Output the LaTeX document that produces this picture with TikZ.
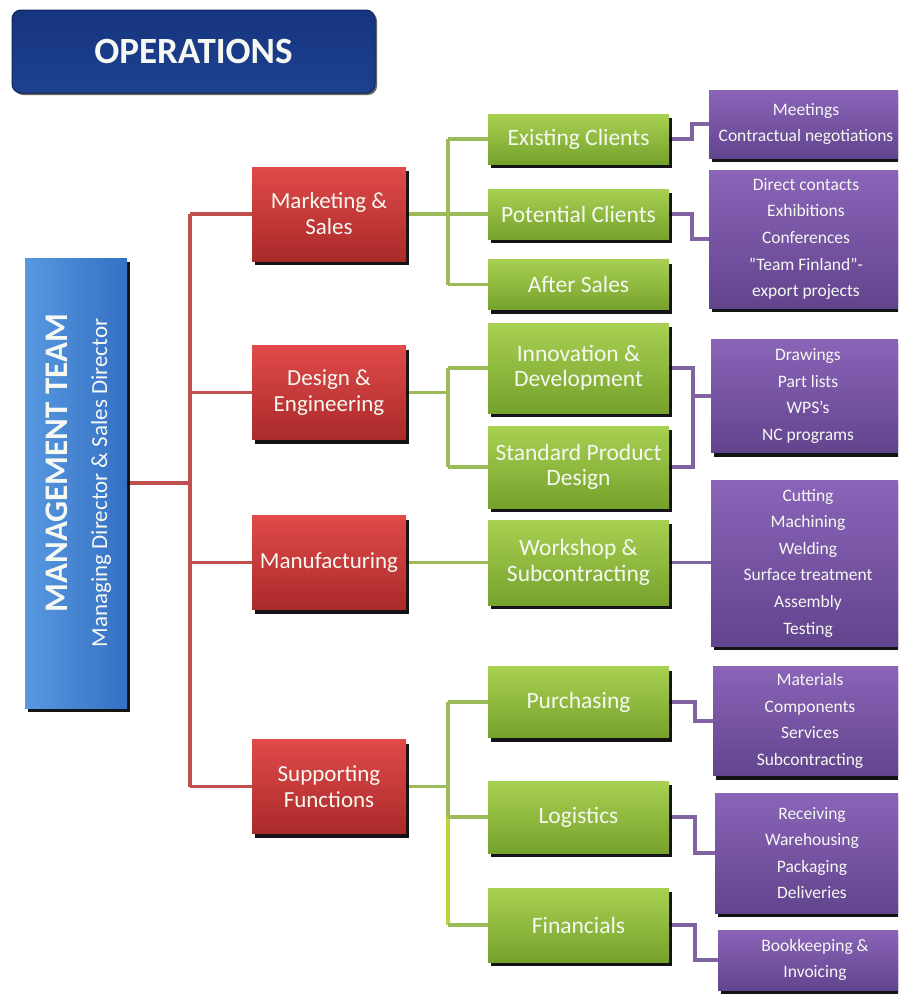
\documentclass[tikz,border=0pt]{standalone}
\usepackage{fontspec}
\setmainfont{Carlito}
\usetikzlibrary{shadows}
\pgfdeclarelayer{paper}
\pgfdeclarelayer{wires}
\pgfsetlayers{paper,wires,main}

\definecolor{redwire}{RGB}{192,80,77}
\definecolor{greenwire}{RGB}{155,187,89}
\definecolor{yellowwire}{RGB}{190,208,60}
\definecolor{purplewire}{RGB}{128,100,162}
\definecolor{redtop}{RGB}{224,74,74}
\definecolor{redbot}{RGB}{170,42,42}
\definecolor{greentop}{RGB}{168,208,82}
\definecolor{greenbot}{RGB}{118,162,44}
\definecolor{purpletop}{RGB}{138,100,184}
\definecolor{purplebot}{RGB}{98,68,142}
\definecolor{navytop}{RGB}{22,52,128}
\definecolor{navybot}{RGB}{30,66,142}
\definecolor{bluel}{RGB}{88,152,224}
\definecolor{bluer}{RGB}{52,112,196}
\definecolor{lighttext}{RGB}{246,248,242}

\tikzset{
  box/.style={rectangle, inner sep=2pt, align=center, text=lighttext,
    drop shadow={shadow xshift=3pt, shadow yshift=-4pt, fill=black, opacity=0.92}},
  redbox/.style={box, top color=redtop, bottom color=redbot,
    minimum width=154pt, minimum height=94pt, font=\fontsize{23}{26}\selectfont},
  greenbox/.style={box, top color=greentop, bottom color=greenbot,
    minimum width=181pt, font=\fontsize{23.5}{25.5}\selectfont},
  purplebox/.style={box, top color=purpletop, bottom color=purplebot,
    minimum width=194pt, font=\fontsize{17.5}{26.6}\selectfont},
  redline/.style={draw=redwire, line width=3.5pt},
  greenline/.style={draw=greenwire, line width=3.5pt},
  purpleline/.style={draw=purplewire, line width=3.5pt},
}

\begin{document}
\begin{tikzpicture}[x=1pt, y=-1pt]
\useasboundingbox (0,0) rectangle (898,994);
\begin{pgfonlayer}{paper}
  \fill[white] (0,0) rectangle (898,994);
\end{pgfonlayer}
\clip (0,0) rectangle (898,994);

% title banner
\node[rectangle, rounded corners=9pt, top color=navytop, bottom color=navybot,
  draw=navytop!70!black, line width=1pt, minimum width=363pt, minimum height=83pt,
  drop shadow={shadow xshift=2pt, shadow yshift=-2pt, fill=black, opacity=0.6},
  text=lighttext, font=\bfseries\fontsize{37}{40}\selectfont]
  (ops) at (193.5,51.5) {OPERATIONS};

% management column
\node[rectangle, left color=bluel, right color=bluer, minimum width=102pt, minimum height=450pt,
  drop shadow={shadow xshift=3pt, shadow yshift=-4pt, fill=black, opacity=0.92}]
  (mgmt) at (76,483) {};
\node[rotate=90, anchor=base, text=lighttext, inner sep=0pt,
  font=\bfseries\fontsize{33}{36}\selectfont] (mgtitle) at (67,463) {MANAGEMENT TEAM};
\node[rotate=90, anchor=base, text=lighttext, inner sep=0pt,
  font=\fontsize{23}{27}\selectfont] (mgsub) at (107,483) {Managing Director \& Sales Director};

% departments
\node[redbox] (ms) at (329,214) {Marketing \&\\Sales};
\node[redbox] (de) at (329,392.5) {Design \&\\Engineering};
\node[redbox] (mf) at (329,562.5) {Manufacturing};
\node[redbox] (sf) at (329,786.5) {Supporting\\Functions};

% functions
\node[greenbox, minimum height=50pt] (ec) at (578.5,139) {Existing Clients};
\node[greenbox, minimum height=50pt] (pc) at (578.5,214) {Potential Clients};
\node[greenbox, minimum height=50pt] (as) at (578.5,284.5) {After Sales};
\node[greenbox, minimum height=90pt] (id) at (578.5,368) {Innovation \&\\Development};
\node[greenbox, minimum height=82pt] (spd) at (578.5,467) {Standard Product\\Design};
\node[greenbox, minimum height=85pt] (ws) at (578.5,562.5) {Workshop \&\\Subcontracting};
\node[greenbox, minimum height=71pt] (pu) at (578.5,702) {Purchasing};
\node[greenbox, minimum height=72pt] (lg) at (578.5,817) {Logistics};
\node[greenbox, minimum height=74pt] (fi) at (578.5,925) {Financials};

% tasks
\node[purplebox, minimum height=68pt] (t1) at (806,124) {Meetings\\Contractual negotiations};
\node[purplebox, minimum height=138pt] (t2) at (806,239)
  {Direct contacts\\Exhibitions\\Conferences\\”Team Finland”-\\export projects};
\node[purplebox, minimum height=113pt] (t3) at (808,396) {Drawings\\Part lists\\WPS’s\\NC programs};
\node[purplebox, minimum height=166pt] (t4) at (808,563)
  {Cutting\\Machining\\Welding\\Surface treatment\\Assembly\\Testing};
\node[purplebox, minimum height=109pt] (t5) at (810,721) {Materials\\Components\\Services\\Subcontracting};
\node[purplebox, minimum height=120pt] (t6) at (812,853) {Receiving\\Warehousing\\Packaging\\Deliveries};
\node[purplebox, minimum height=60pt] (t7) at (815,960) {Bookkeeping \&\\Invoicing};

% connector columns
\coordinate (rtrunk) at (190,0);
\coordinate (gcol) at (448,0);
\coordinate (pcolA) at (692,0);
\coordinate (pcolB) at (693,0);
\coordinate (pcolC) at (695,0);

\begin{pgfonlayer}{wires}
  % management to departments
  \draw[redline] (mgmt.east) -- (mgmt.east -| rtrunk);
  \draw[redline] (rtrunk |- ms.west) -- (rtrunk |- sf.west);
  \foreach \d in {ms,de,mf,sf} \draw[redline] (rtrunk |- \d.west) -- (\d.west);

  % departments to functions
  \draw[greenline] (ms.east) -- (ms.east -| gcol);
  \draw[greenline] (gcol |- ec.west) -- (gcol |- as.west);
  \foreach \f in {ec,pc,as} \draw[greenline] (gcol |- \f.west) -- (\f.west);
  \draw[greenline] (de.east) -- (de.east -| gcol);
  \draw[greenline] (gcol |- id.west) -- (gcol |- spd.west);
  \foreach \f in {id,spd} \draw[greenline] (gcol |- \f.west) -- (\f.west);
  \draw[greenline] (mf.east) -- (ws.west);
  \draw[greenline] (sf.east) -- (sf.east -| gcol);
  \draw[greenline] (gcol |- pu.west) -- (gcol |- lg.west);
  \draw[draw=yellowwire, line width=3.5pt] (gcol |- lg.west) -- (gcol |- fi.west);
  \foreach \f in {pu,lg,fi} \draw[greenline] (gcol |- \f.west) -- (\f.west);

  % functions to tasks
  \draw[purpleline] (ec.east) -- (ec.east -| pcolA) |- (t1.west);
  \draw[purpleline] (pc.east) -- (pc.east -| pcolA) |- (t2.west);
  \draw[purpleline] (id.east) -- (id.east -| pcolB) -- (spd.east -| pcolB) -- (spd.east);
  \draw[purpleline] (pcolB |- t3.west) -- (t3.west);
  \draw[purpleline] (ws.east) -- (ws.east -| t4.west);
  \draw[purpleline] (pu.east) -- (pu.east -| pcolC) |- (t5.west);
  \draw[purpleline] (lg.east) -- (lg.east -| pcolC) |- (t6.west);
  \draw[purpleline] (fi.east) -- (fi.east -| pcolC) |- (t7.west);
\end{pgfonlayer}
\end{tikzpicture}
\end{document}
